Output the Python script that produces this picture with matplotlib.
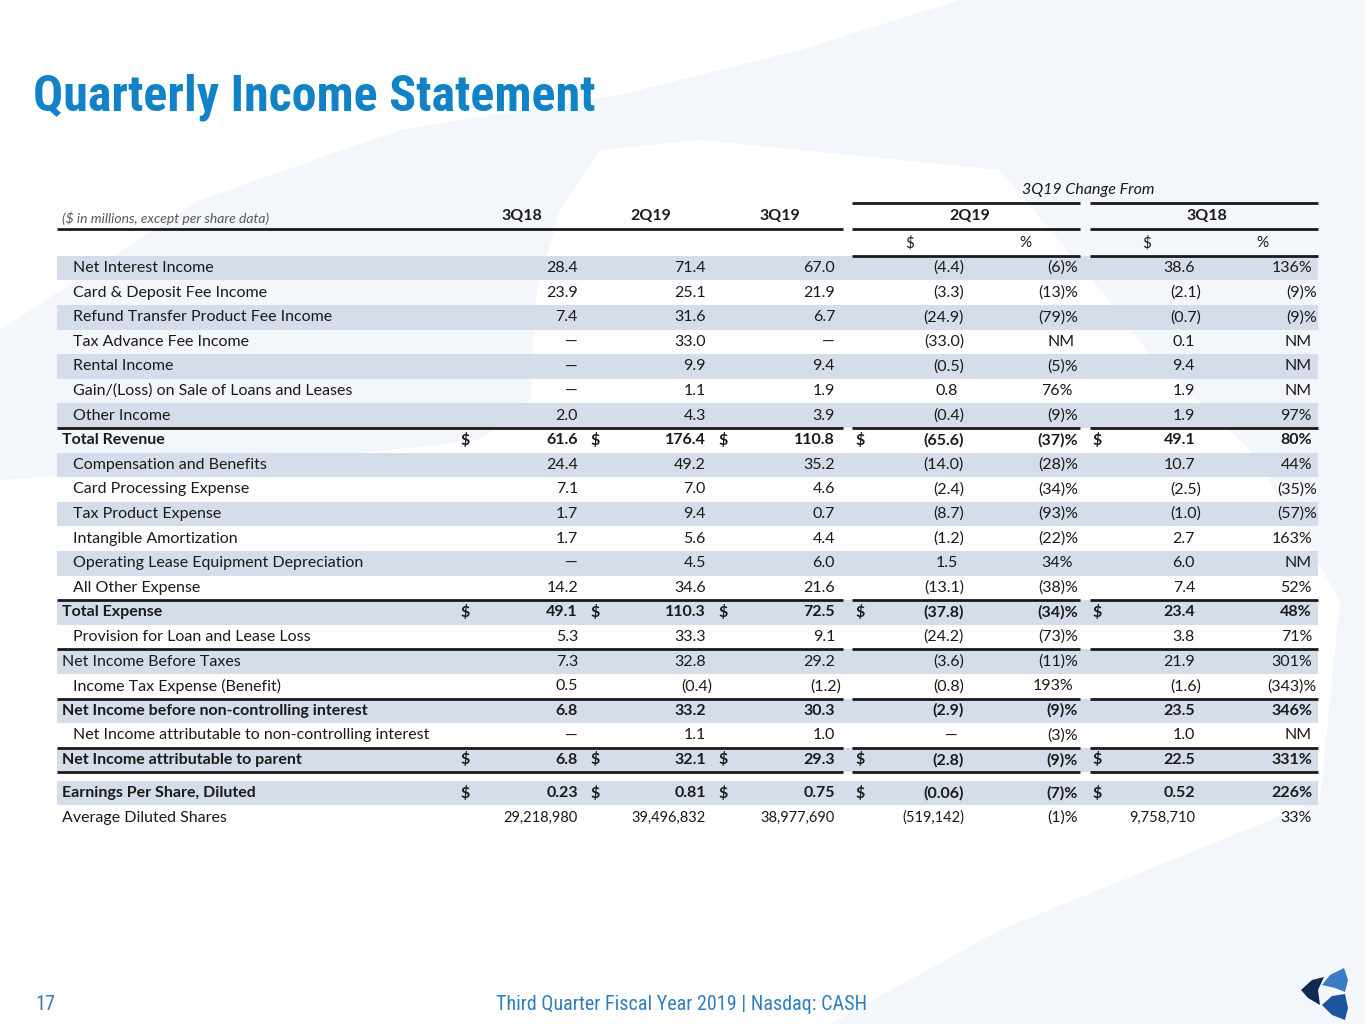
import matplotlib
matplotlib.use("Agg")
import matplotlib.pyplot as plt
from matplotlib.patches import Rectangle, Polygon
from matplotlib import font_manager as fm

# ---------------- data ----------------
labels = ["Net Interest Income", "Card & Deposit Fee Income", "Refund Transfer Product Fee Income",
          "Tax Advance Fee Income", "Rental Income", "Gain/(Loss) on Sale of Loans and Leases",
          "Other Income", "Total Revenue", "Compensation and Benefits", "Card Processing Expense",
          "Tax Product Expense", "Intangible Amortization", "Operating Lease Equipment Depreciation",
          "All Other Expense", "Total Expense", "Provision for Loan and Lease Loss",
          "Net Income Before Taxes", "Income Tax Expense (Benefit)",
          "Net Income before non-controlling interest",
          "Net Income attributable to non-controlling interest",
          "Net Income attributable to parent", "Earnings Per Share, Diluted", "Average Diluted Shares"]
q3_18 = ["28.4", "23.9", "7.4", "—", "—", "—", "2.0", "61.6", "24.4", "7.1", "1.7", "1.7", "—",
         "14.2", "49.1", "5.3", "7.3", "0.5", "6.8", "—", "6.8", "0.23", "29,218,980"]
q2_19 = ["71.4", "25.1", "31.6", "33.0", "9.9", "1.1", "4.3", "176.4", "49.2", "7.0", "9.4", "5.6",
         "4.5", "34.6", "110.3", "33.3", "32.8", "(0.4)", "33.2", "1.1", "32.1", "0.81", "39,496,832"]
q3_19 = ["67.0", "21.9", "6.7", "—", "9.4", "1.9", "3.9", "110.8", "35.2", "4.6", "0.7", "4.4",
         "6.0", "21.6", "72.5", "9.1", "29.2", "(1.2)", "30.3", "1.0", "29.3", "0.75", "38,977,690"]
chg_2q19_usd = ["(4.4)", "(3.3)", "(24.9)", "(33.0)", "(0.5)", "0.8", "(0.4)", "(65.6)", "(14.0)",
                "(2.4)", "(8.7)", "(1.2)", "1.5", "(13.1)", "(37.8)", "(24.2)", "(3.6)", "(0.8)",
                "(2.9)", "—", "(2.8)", "(0.06)", "(519,142)"]
chg_2q19_pct = ["(6)%", "(13)%", "(79)%", "NM", "(5)%", "76%", "(9)%", "(37)%", "(28)%", "(34)%",
                "(93)%", "(22)%", "34%", "(38)%", "(34)%", "(73)%", "(11)%", "193%", "(9)%",
                "(3)%", "(9)%", "(7)%", "(1)%"]
chg_3q18_usd = ["38.6", "(2.1)", "(0.7)", "0.1", "9.4", "1.9", "1.9", "49.1", "10.7", "(2.5)",
                "(1.0)", "2.7", "6.0", "7.4", "23.4", "3.8", "21.9", "(1.6)", "23.5", "1.0",
                "22.5", "0.52", "9,758,710"]
chg_3q18_pct = ["136%", "(9)%", "(9)%", "NM", "NM", "NM", "97%", "80%", "44%", "(35)%", "(57)%",
                "163%", "NM", "52%", "48%", "71%", "301%", "(343)%", "346%", "NM", "331%",
                "226%", "33%"]
col_headers = ["3Q18", "2Q19", "3Q19"]
group_headers = ["2Q19", "3Q18"]
bold_rows = {"Total Revenue", "Total Expense", "Net Income before non-controlling interest",
             "Net Income attributable to parent", "Earnings Per Share, Diluted"}
dollar_rows = {"Total Revenue", "Total Expense", "Net Income attributable to parent",
               "Earnings Per Share, Diluted"}
flush_rows = bold_rows | {"Net Income Before Taxes", "Average Diluted Shares"}
line_above = {"Total Revenue", "Total Expense", "Net Income Before Taxes",
              "Net Income before non-controlling interest", "Net Income attributable to parent"}

# ---------------- styling ----------------
avail = {f.name for f in fm.fontManager.ttflist}
cond = next((f for f in ["Roboto Condensed", "Liberation Sans Narrow", "Roboto"] if f in avail),
            "DejaVu Sans")
body = "Lato"
TITLE_BLUE = "#1282c6"
FOOT_BLUE = "#2e7fbf"
SHADE = "#d5dcea"
BG = "#f3f6fa"
TXT = "#1a1a1a"
BFS = 11.5

fig = plt.figure(figsize=(13.65, 10.24), dpi=100)
fig.patch.set_facecolor(BG)
ax = fig.add_axes([0, 0, 1, 1])
ax.set_xlim(0, 1365)
ax.set_ylim(1024, 0)
ax.axis("off")
ax.patch.set_alpha(0)

# background watermark: white regions on light backdrop
ax.add_patch(Polygon([(0, 0), (960, 0), (800, 50), (620, 95), (400, 130), (200, 200), (0, 330)],
                     closed=True, fc="white", ec="none", zorder=0))
ax.add_patch(Polygon([(600, 150), (700, 140), (1000, 170), (1107, 298), (1150, 355), (1250, 450),
                      (1340, 600), (1320, 800), (1000, 930), (830, 1024), (0, 1024), (0, 480),
                      (300, 460), (480, 440), (530, 400), (537, 290), (560, 210)],
                     closed=True, fc="white", ec="none", zorder=0))

# title
ax.text(33, 97, "Quarterly Income Statement", fontsize=36, fontweight="bold", family=cond,
        color=TITLE_BLUE, va="center", ha="left")

# layout
row_h = 24.6
y0 = 268
centers = [y0 + row_h * i for i in range(21)] + [793, 818]
shaded = [i % 2 == 0 for i in range(21)] + [True, False]
seg_spans = [(57, 843), (852, 1080), (1090, 1318)]
right_pos = [578, 706, 835, 958, 1073, 1195, 1312]
dollar_x = [465, 595, 723, 860, 1097]
columns = [q3_18, q2_19, q3_19, chg_2q19_usd, chg_2q19_pct, chg_3q18_usd, chg_3q18_pct]

def hline(y, spans, lw=2.0):
    for a, b in spans:
        ax.plot([a, b], [y, y], color=TXT, lw=lw, solid_capstyle="butt", zorder=3)

# headers
ax.text(1088, 190, "3Q19 Change From", fontsize=11.5, style="italic", family=body, color=TXT,
        ha="center", va="center")
hline(203, seg_spans[1:])
ax.text(62, 218, "($ in millions, except per share data)", fontsize=10, style="italic",
        family=body, color="#595959", ha="left", va="center")
for h, x in zip(col_headers, [522, 651, 780]):
    ax.text(x, 216, h, fontsize=BFS, fontweight="bold", family=body, color=TXT, ha="center", va="center")
for h, x in zip(group_headers, [970, 1207]):
    ax.text(x, 216, h, fontsize=BFS, fontweight="bold", family=body, color=TXT, ha="center", va="center")
hline(229, seg_spans)
for x, s in zip([910, 1025, 1147, 1262], ["$", "%", "$", "%"]):
    ax.text(x, 243, s, fontsize=11, family=body, color=TXT, ha="center", va="center")
hline(256, seg_spans[1:])

# rows
for i, lab in enumerate(labels):
    yc = centers[i]
    if shaded[i]:
        ax.add_patch(Rectangle((57, yc - row_h / 2), 1318 - 57, row_h, fc=SHADE, ec="none", zorder=1))
    bold = lab in bold_rows
    fw = "bold" if bold else "normal"
    lx = 62 if lab in flush_rows else 73
    ax.text(lx, yc, lab, fontsize=BFS, fontweight=fw, family=body, color=TXT, ha="left",
            va="center", zorder=4)
    small = lab == "Average Diluted Shares"
    for c, col in enumerate(columns):
        v = col[i]
        x = right_pos[c]
        if v.endswith(")"):
            x += 6
        elif v.endswith(")%"):
            x += 5
        if v == "NM" and c == 4:
            x += 2
        fs = 10.5 if (small and c in (0, 1, 2, 3, 5)) else BFS
        ax.text(x, yc, v, fontsize=fs, fontweight=fw, family=body, color=TXT, ha="right",
                va="center", zorder=4)
    if lab in dollar_rows:
        for dx in dollar_x:
            ax.text(dx, yc, "$", fontsize=BFS, fontweight=fw, family=body, color=TXT,
                    ha="center", va="center", zorder=4)
    if lab in line_above:
        hline(yc - row_h / 2, seg_spans)
    if lab == "Net Income attributable to parent":
        hline(yc + row_h / 2, seg_spans)

# footer
ax.text(35, 1004, "17", fontsize=14.5, family=cond, color=FOOT_BLUE, ha="left", va="center")
ax.text(682, 1004, "Third Quarter Fiscal Year 2019 | Nasdaq: CASH", fontsize=14.5, family=cond,
        color=FOOT_BLUE, ha="center", va="center")

# logo
ax.add_patch(Polygon([(1301, 990), (1312, 980), (1324, 977), (1318, 990), (1320, 1005), (1308, 998)],
                     closed=True, fc="#0f2a52", ec="none", zorder=5))
ax.add_patch(Polygon([(1322, 985), (1330, 975), (1344, 968), (1348, 980), (1345, 992), (1335, 988)],
                     closed=True, fc="#3a7cc2", ec="none", zorder=5))
ax.add_patch(Polygon([(1322, 1005), (1332, 996), (1345, 994), (1348, 1008), (1345, 1020), (1332, 1015)],
                     closed=True, fc="#1b55a0", ec="none", zorder=5))

fig.savefig("out.png", dpi=100, facecolor=BG)
